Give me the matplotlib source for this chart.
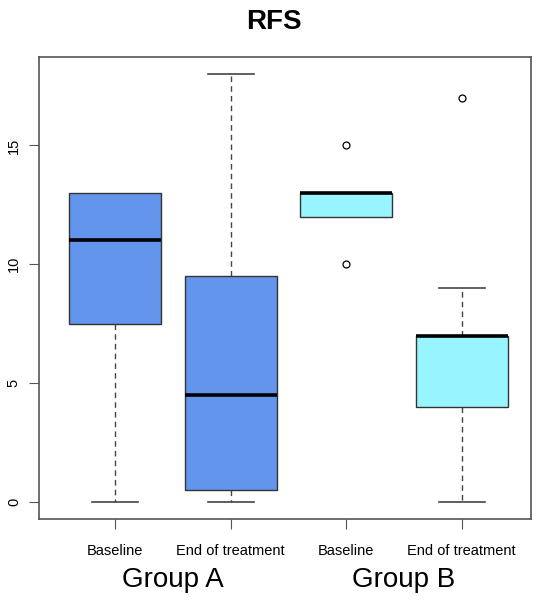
import matplotlib.pyplot as plt
import matplotlib.transforms as mtransforms

plt.rcParams["font.family"] = ["Liberation Sans", "DejaVu Sans"]

labels = ["Baseline", "End of treatment", "Baseline", "End of treatment"]
groups = ["Group A", "Group B"]
whislo = [0, 0, 12, 0]
q1 = [7.5, 0.5, 12, 4]
med = [11, 4.5, 13, 7]
q3 = [13, 9.5, 13, 7]
whishi = [13, 18, 13, 9]
fliers = [[], [], [10, 15], [17]]
colors = ["#6495ED", "#6495ED", "#98F5FF", "#98F5FF"]


def make_stats():
    stats = []
    for i in range(len(labels)):
        stats.append(dict(whislo=whislo[i], q1=q1[i], med=med[i], q3=q3[i],
                          whishi=whishi[i], fliers=fliers[i], label=labels[i]))
    return stats


fig = plt.figure(figsize=(5.48, 6.12), dpi=100)
ax = fig.add_axes([39 / 548, 1 - 519 / 612, 492 / 548, 462 / 612])

pos = [1, 2, 3, 4]
bp = ax.bxp(make_stats(), positions=pos, widths=0.8, patch_artist=True,
            boxprops=dict(edgecolor="#333333", linewidth=1.0),
            medianprops=dict(color="black", linewidth=2.6),
            whiskerprops=dict(color="#444444", linestyle=(0, (4, 3)), linewidth=1.0),
            capprops=dict(color="#444444", linewidth=1.2),
            flierprops=dict(marker="o", markersize=5, markerfacecolor="white",
                            markeredgecolor="black", markeredgewidth=0.9),
            capwidths=0.4)
for patch, c in zip(bp["boxes"], colors):
    patch.set_facecolor(c)
# caps hidden when there is no whisker (as R draws them under the box)
for i in range(len(labels)):
    if whislo[i] == q1[i]:
        bp["caps"][2 * i].set_visible(False)
    if whishi[i] == q3[i]:
        bp["caps"][2 * i + 1].set_visible(False)

ax.set_xlim(0.34, 4.6)
ax.set_ylim(-0.72, 18.72)
ax.set_yticks([0, 5, 10, 15])
ax.set_yticklabels(["0", "5", "10", "15"], rotation=90, va="center", fontsize=10.5)
ax.set_xticks(pos)
ax.set_xticklabels(labels, fontsize=10.5)
ax.tick_params(axis="x", length=7, pad=11, color="#555555")
ax.tick_params(axis="y", length=7, pad=6, color="#555555")
for s in ax.spines.values():
    s.set_color("#555555")
    s.set_linewidth(1.2)

trans = mtransforms.blended_transform_factory(ax.transData, fig.transFigure)
for gx, g in zip([1.5, 3.5], groups):
    ax.text(gx, 1 - 580 / 612, g, transform=trans, ha="center", va="center", fontsize=20)

fig.text(0.5, 1 - 22 / 612, "RFS", ha="center", va="center", fontsize=20, fontweight="bold")

plt.savefig("out.png", dpi=100)
